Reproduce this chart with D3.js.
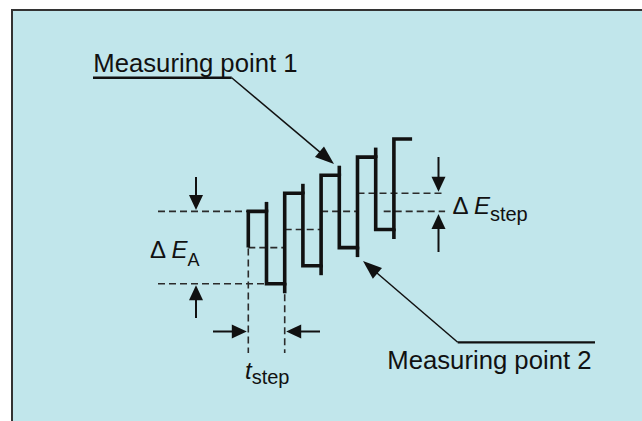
<!DOCTYPE html>
<html>
<head>
<meta charset="utf-8">
<script src="https://cdn.jsdelivr.net/npm/d3@7"></script>
<style>
  html, body { margin: 0; padding: 0; background: #fff; overflow: hidden; }
  svg { display: block; }
  text { font-family: "Liberation Sans", Arial, sans-serif; fill: #111; }
</style>
</head>
<body>
<svg id="chart" width="642" height="421"></svg>
<script>
// Square-wave pulses riding on a potential staircase.
// Time is counted in half-periods, potential in mV.
const halfPeriodTimes   = [0, 1, 2, 3, 4, 5, 6, 7, 8, 9];
const stairPotentials   = [0, 10, 20, 30, 40];      // staircase level of each period
const forwardPotentials = [20, 30, 40, 50, 60];     // forward pulse: E + ΔE_A
const reversePotentials = [-20, -10, 0, 10];        // reverse pulse: E − ΔE_A

const calloutLabels = ["Measuring point 1", "Measuring point 2"];
const amplitudeLabel = ["Δ ", "E", "A"];
const stepHeightLabel = ["Δ ", "E", "step"];
const stepTimeLabel = ["t", "step"];

const W = 642, H = 421;
const svg = d3.select("#chart");

// panel (runs off the right and bottom edges)
svg.append("rect")
  .attr("x", 12).attr("y", 10)
  .attr("width", W + 40).attr("height", H + 40)
  .attr("fill", "#c1e6eb")
  .attr("stroke", "#333").attr("stroke-width", 2);

const x = d3.scaleLinear().domain([0, 9]).range([248.3, 412.1]);
const y = d3.scaleLinear().domain([-20, 60]).range([283.8, 139.0]);

const ink = "#111";
const dashStyle = sel => sel.attr("stroke", "#2b2b2b").attr("stroke-width", 1.6)
  .attr("stroke-dasharray", "7,4").attr("fill", "none");

function hLine(x1, x2, yy) {
  return svg.append("line").attr("x1", x1).attr("x2", x2).attr("y1", yy).attr("y2", yy);
}
function vLine(xx, y1, y2) {
  return svg.append("line").attr("x1", xx).attr("x2", xx).attr("y1", y1).attr("y2", y2);
}
// straight arrow with a filled triangular head at (tx, ty)
function arrow(fx, fy, tx, ty, width, headLen, headW) {
  const dx = tx - fx, dy = ty - fy, len = Math.hypot(dx, dy);
  const ux = dx / len, uy = dy / len, nx = -uy, ny = ux;
  const bx = tx - ux * headLen, by = ty - uy * headLen;
  svg.append("line").attr("x1", fx).attr("y1", fy).attr("x2", bx + ux).attr("y2", by + uy)
    .attr("stroke", ink).attr("stroke-width", width);
  svg.append("path")
    .attr("d", `M${tx},${ty}L${bx + nx * headW / 2},${by + ny * headW / 2}L${bx - nx * headW / 2},${by - ny * headW / 2}Z`)
    .attr("fill", ink);
}

// ---- reference (dashed) lines ----
// staircase level of each period
[0, 1, 2].forEach(i => {
  hLine(x(halfPeriodTimes[2 * i]), x(halfPeriodTimes[2 * i + 2]), y(stairPotentials[i])).call(dashStyle);
});
hLine(x(halfPeriodTimes[6]), x(halfPeriodTimes[9]) + 33, y(stairPotentials[3])).call(dashStyle);
hLine(x(halfPeriodTimes[7]) + 8, x(halfPeriodTimes[9]) + 33, y(stairPotentials[2])).call(dashStyle);

// pulse amplitude references
hLine(158, x(halfPeriodTimes[0]) - 1, y(forwardPotentials[0])).call(dashStyle);
hLine(158, x(halfPeriodTimes[1]), y(reversePotentials[0])).call(dashStyle);

// step time references
const spike = 9.5;
vLine(x(halfPeriodTimes[0]), y(stairPotentials[0]) + 1, 353).call(dashStyle);
vLine(x(halfPeriodTimes[2]), y(reversePotentials[0]) + spike + 1, 353).call(dashStyle);

// ---- waveform ----
const wave = [{ t: halfPeriodTimes[0], E: stairPotentials[0] }];
forwardPotentials.forEach((f, i) => {
  wave.push({ t: halfPeriodTimes[2 * i], E: f });
  if (i < reversePotentials.length) wave.push({ t: halfPeriodTimes[2 * i + 1], E: reversePotentials[i] });
});
wave.push({ t: halfPeriodTimes[9], E: forwardPotentials[4] });

svg.append("path")
  .datum(wave)
  .attr("d", d3.line().x(d => x(d.t)).y(d => y(d.E)).curve(d3.curveStepAfter))
  .attr("fill", "none").attr("stroke", ink)
  .attr("stroke-width", 3.6).attr("stroke-linejoin", "miter").attr("stroke-linecap", "butt");

// measuring-point ticks at the end of every pulse
reversePotentials.forEach((r, i) => {
  vLine(x(halfPeriodTimes[2 * i + 1]), y(forwardPotentials[i]) - spike, y(forwardPotentials[i]) + 1)
    .attr("stroke", ink).attr("stroke-width", 3.6);
  vLine(x(halfPeriodTimes[2 * i + 2]), y(r) - 1, y(r) + spike)
    .attr("stroke", ink).attr("stroke-width", 3.6);
});

// ---- dimension arrows ----
const ax = 196;
arrow(ax, 177, ax, y(forwardPotentials[0]) - 1.5, 2, 15, 14);
arrow(ax, 318, ax, y(reversePotentials[0]) + 1.5, 2, 15, 14);

const sx = 438.5;
arrow(sx, 157, sx, y(stairPotentials[3]) - 1.5, 2, 15, 14);
arrow(sx, 252, sx, y(stairPotentials[2]) + 2.5, 2, 15, 14);

const ty = 331.5;
arrow(213, ty, x(halfPeriodTimes[0]) - 1.5, ty, 2, 15, 14);
arrow(320, ty, x(halfPeriodTimes[2]) + 1.5, ty, 2, 15, 14);

// ---- callouts ----
svg.append("text").attr("x", 93.3).attr("y", 72.3).attr("font-size", 25.7).text(calloutLabels[0]);
hLine(93, 231.7, 77.7).attr("stroke", ink).attr("stroke-width", 2.6);
arrow(231.7, 77.7, 334, 164, 1.5, 19, 14);

svg.append("text").attr("x", 387.3).attr("y", 369.3).attr("font-size", 25.7).text(calloutLabels[1]);
hLine(457.7, 595, 342.3).attr("stroke", ink).attr("stroke-width", 2.2);
arrow(457.7, 342.3, 363, 261, 1.5, 19, 14);

// ---- symbol labels ----
const ea = svg.append("text").attr("x", 150).attr("y", 258).attr("font-size", 24);
ea.append("tspan").text(amplitudeLabel[0]);
ea.append("tspan").attr("font-style", "italic").text(amplitudeLabel[1]);
ea.append("tspan").attr("font-size", 18).attr("dy", 8).text(amplitudeLabel[2]);

const es = svg.append("text").attr("x", 452.5).attr("y", 214).attr("font-size", 24);
es.append("tspan").text(stepHeightLabel[0]);
es.append("tspan").attr("font-style", "italic").text(stepHeightLabel[1]);
es.append("tspan").attr("font-size", 20).attr("dy", 6.5).text(stepHeightLabel[2]);

const ts = svg.append("text").attr("x", 245).attr("y", 378.5).attr("font-size", 24);
ts.append("tspan").attr("font-style", "italic").text(stepTimeLabel[0]);
ts.append("tspan").attr("font-size", 20).attr("dy", 5.5).text(stepTimeLabel[1]);
</script>
</body>
</html>
